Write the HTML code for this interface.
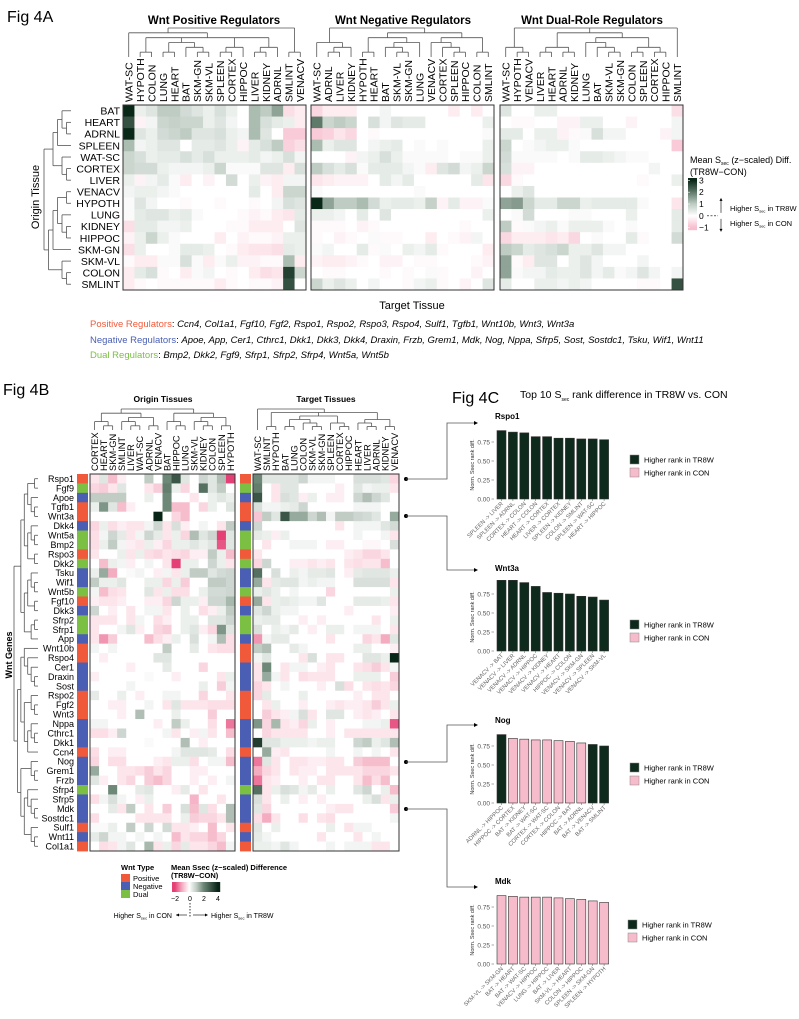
<!DOCTYPE html>
<html><head><meta charset="utf-8"><style>
html,body{margin:0;padding:0;background:#fff}
svg{display:block;font-family:"Liberation Sans",Arial,sans-serif}
</style></head><body>
<svg id="fig" width="799" height="1019" viewBox="0 0 799 1019" xmlns="http://www.w3.org/2000/svg">
<text x="7" y="22" font-size="16">Fig 4A</text>
<text x="214" y="24" font-size="11.5" font-weight="bold" text-anchor="middle">Wnt Positive Regulators</text>
<text x="403" y="24" font-size="11.5" font-weight="bold" text-anchor="middle">Wnt Negative Regulators</text>
<text x="592" y="24" font-size="11.5" font-weight="bold" text-anchor="middle">Wnt Dual-Role Regulators</text>
<text x="412" y="309" font-size="11" text-anchor="middle">Target Tissue</text>
<text transform="translate(39,197) rotate(-90)" font-size="11" text-anchor="middle">Origin Tissue</text>
<text x="690" y="163" font-size="9">Mean S<tspan font-size="5" dy="2">sec</tspan><tspan dy="-2"> (z−scaled) Diff.</tspan></text>
<text x="690" y="175" font-size="9">(TR8W−CON)</text>
<g font-size="9.5">
<text x="90" y="327"><tspan fill="#f05a3a">Positive Regulators</tspan>: <tspan font-style="italic">Ccn4, Col1a1, Fgf10, Fgf2, Rspo1, Rspo2, Rspo3, Rspo4, Sulf1, Tgfb1, Wnt10b, Wnt3, Wnt3a</tspan></text>
<text x="90" y="343"><tspan fill="#4a5fb4">Negative Regulators</tspan>: <tspan font-style="italic">Apoe, App, Cer1, Cthrc1, Dkk1, Dkk3, Dkk4, Draxin, Frzb, Grem1, Mdk, Nog, Nppa, Sfrp5, Sost, Sostdc1, Tsku, Wif1, Wnt11</tspan></text>
<text x="90" y="358"><tspan fill="#7bc043">Dual Regulators</tspan>: <tspan font-style="italic">Bmp2, Dkk2, Fgf9, Sfrp1, Sfrp2, Sfrp4, Wnt5a, Wnt5b</tspan></text>
</g>
<text x="3" y="395" font-size="16">Fig 4B</text>
<text x="163" y="402" font-size="8.5" font-weight="bold" text-anchor="middle">Origin Tissues</text>
<text x="326" y="402" font-size="8.5" font-weight="bold" text-anchor="middle">Target Tissues</text>
<text transform="translate(12,655) rotate(-90)" font-size="9" font-weight="bold" text-anchor="middle">Wnt Genes</text>
<text x="452" y="403" font-size="16">Fig 4C</text>
<text x="520" y="398" font-size="10.5">Top 10 S<tspan font-size="5" dy="3">sec</tspan><tspan dy="-3"> rank difference in TR8W vs. CON</tspan></text>
<g id="g4b-legend">
<text x="121" y="870" font-size="7.5" font-weight="bold">Wnt Type</text>
<rect x="121" y="874" width="9" height="8" fill="#f05a3a"/><text x="133" y="881" font-size="7.5">Positive</text>
<rect x="121" y="882" width="9" height="8" fill="#4a5fb4"/><text x="133" y="889" font-size="7.5">Negative</text>
<rect x="121" y="890" width="9" height="8" fill="#7bc043"/><text x="133" y="897" font-size="7.5">Dual</text>
<text x="171" y="870" font-size="7.5" font-weight="bold">Mean Ssec (z−scaled) Difference</text>
<text x="171" y="878" font-size="7.5" font-weight="bold">(TR8W−CON)</text>
<text x="175" y="901" font-size="7" text-anchor="middle">−2</text>
<text x="190" y="901" font-size="7" text-anchor="middle">0</text>
<text x="204" y="901" font-size="7" text-anchor="middle">2</text>
<text x="218" y="901" font-size="7" text-anchor="middle">4</text>
<line x1="190" y1="903" x2="190" y2="918" stroke="#000" stroke-width="0.8" stroke-dasharray="1.5,1.5"/>
<text x="172" y="918" font-size="7" text-anchor="end">Higher S<tspan font-size="4" dy="1.5">sec</tspan><tspan dy="-1.5"> in CON</tspan></text>
<line x1="176" y1="915" x2="187" y2="915" stroke="#000" stroke-width="0.6"/><path d="M176,915 l3,-1.5 v3z"/>
<line x1="193" y1="915" x2="205" y2="915" stroke="#000" stroke-width="0.6"/><path d="M208,915 l-3,-1.5 v3z"/>
<text x="211" y="918" font-size="7">Higher S<tspan font-size="4" dy="1.5">sec</tspan><tspan dy="-1.5"> in TR8W</tspan></text>
</g>
</svg>
<script>
// ===== DATA =====
const tissuesA1 = ["WAT-SC","HYPOTH","COLON","LUNG","HEART","BAT","SKM-GN","SKM-VL","SPLEEN","CORTEX","HIPPOC","LIVER","KIDNEY","ADRNL","SMLINT","VENACV"];
const tissuesA2 = ["WAT-SC","ADRNL","LIVER","KIDNEY","HYPOTH","HEART","BAT","SKM-VL","SKM-GN","LUNG","VENACV","CORTEX","SPLEEN","HIPPOC","COLON","SMLINT"];
const tissuesA3 = ["WAT-SC","HYPOTH","VENACV","LIVER","HEART","ADRNL","KIDNEY","LUNG","BAT","SKM-VL","SKM-GN","COLON","SPLEEN","CORTEX","HIPPOC","SMLINT"];
const originRowsA = ["BAT","HEART","ADRNL","SPLEEN","WAT-SC","CORTEX","LIVER","VENACV","HYPOTH","LUNG","KIDNEY","HIPPOC","SKM-GN","SKM-VL","COLON","SMLINT"];
const valuesA1 = [
[3,.3,.5,1,1,.7,.5,.3,.6,.3,0,1.2,1,1.5,-.5,-.3],
[2.5,-.2,.2,.8,.9,.8,.8,.3,.5,.2,0,1.2,.6,.4,.3,-.3],
[3,.5,.3,.7,.8,1,.5,.5,.6,.3,.2,1.2,.5,0,-.8,-.8],
[1.2,.2,.3,.5,.5,0,.4,.4,.5,.3,-.2,.4,.6,1,-.7,-.5],
[.8,.6,.3,.4,.4,.6,.4,.6,.3,.3,.3,.4,.2,.3,.6,.2],
[.8,.7,.7,.3,.2,.2,.2,.3,.8,.1,.1,.1,.5,.5,-.3,.6],
[.3,-.2,.2,.4,.1,-.3,0,-.2,0,.7,0,.3,-.2,-.3,.2,.2],
[.2,.3,.3,.2,.1,0,0,0,0,0,0,.4,0,-.3,.8,.8],
[.1,.5,.2,0,0,-.1,0,0,-.1,0,0,-.1,0,.2,.6,.5],
[.1,.4,.5,.5,.3,.4,.1,0,0,0,-.1,-.2,-.1,-.3,-.4,.4],
[-.5,.4,.4,.2,.2,.3,0,0,0,-.1,-.1,-.3,-.3,-.3,0,.5],
[-.2,.3,.8,.3,.1,0,0,0,-.3,0,-.2,-.1,-.1,-.2,.3,.3],
[-.5,.3,0,0,.1,.4,.4,.3,0,-.1,-.3,-.4,-.4,-.5,.4,.3],
[-.1,-.3,-.3,.1,.1,.6,.1,-.3,.1,.3,-.2,-.2,-.1,-.1,1.2,-.3],
[-.3,.4,.6,-.1,0,-.3,.1,.2,0,-.1,0,-.3,-.5,-.4,2.7,.8],
[-.3,-.1,0,-.1,-.1,-.1,-.1,-.1,-.3,-.1,0,-.1,-.1,-.2,2.5,0]];
const valuesA2 = [
[-.6,-.3,-.3,-.3,0,0,.2,0,0,0,0,0,-.3,0,-.3,0],
[2,.8,1,.8,0,.6,.2,.5,.4,.4,0,0,0,0,0,.3],
[-.8,-.7,-.4,-.6,0,-.1,0,0,0,0,0,0,0,0,0,.1],
[1.2,.3,.5,.5,0,.2,.3,.4,0,.1,0,.1,0,0,0,.3],
[0,0,0,-.2,.2,.3,.6,.3,.1,.1,.1,.1,0,.1,.1,.3],
[1,.6,.4,.6,.1,.4,.4,.4,.2,.1,-.3,.5,.7,.2,.3,.8],
[-.4,-.3,-.2,-.2,-.2,0,.4,.2,.4,0,0,0,0,0,.4,-.4],
[.1,0,0,0,0,0,0,0,0,.1,0,0,0,0,0,0],
[3,1.5,1,1,1.2,.7,.3,.4,.4,.3,.9,-.2,.4,-.2,-.2,.1],
[.3,.3,.2,0,.4,0,.5,0,0,0,0,0,0,0,0,.3],
[-.1,-.1,-.1,0,-.2,-.1,0,0,0,0,0,0,0,-.1,0,0],
[-.1,0,-.2,-.1,0,.1,-.1,-.1,0,0,-.3,0,-.1,-.2,.2,0],
[.1,.2,0,0,.4,-.1,.1,0,.3,.2,.4,-.1,0,0,0,-.3],
[-.2,-.3,-.3,-.2,-.1,0,-.2,-.2,0,-.1,-.1,0,0,0,-.1,-.2],
[0,-.1,-.1,0,0,0,-.1,0,-.1,0,.1,-.1,0,0,-.2,0],
[.8,.3,.5,.3,0,.2,0,0,-.1,.2,.3,-.1,0,-.2,0,.5]];
const valuesA3 = [
[.5,0,0,.3,.3,0,0,0,0,0,0,0,0,0,0,-.5],
[0,-.1,-.1,0,0,-.2,-.2,.3,.3,0,0,-.2,0,0,0,.2],
[.4,.4,0,.3,.3,-.2,-.1,.1,.6,.2,.2,0,0,0,-.2,.2],
[.8,0,.1,.2,.3,.3,.1,0,0,0,0,0,0,0,0,-.8],
[.7,.1,.1,.1,.1,0,.1,.4,.4,.3,.2,.1,.1,0,0,0],
[.6,-.2,-.2,0,0,0,0,0,0,0,0,0,0,.2,0,0],
[-.6,-.1,0,0,0,0,0,0,0,0,0,0,-.1,0,0,.3],
[0,.3,.5,0,0,0,0,0,0,0,0,0,0,0,0,0],
[1.5,1.6,.8,.4,.4,.8,.8,.3,.4,.4,.4,.4,.1,0,0,-.4],
[0,.1,.7,0,0,0,.1,.1,0,0,0,.3,0,0,0,.4],
[1,-.1,.1,.2,.3,.1,.3,.3,.3,.1,0,.1,0,0,0,.4],
[-.6,-.3,-.3,-.3,-.4,-.3,-.6,0,.1,0,0,.4,-.1,0,0,.7],
[1,.8,.4,.5,.6,.8,.3,.3,.5,.2,.2,0,0,0,0,0],
[1.5,-.1,-.3,.5,.5,0,.3,.5,.2,0,0,0,.2,0,0,0],
[1.5,.1,.2,.2,.4,.3,.3,.5,.2,.4,.1,.2,.5,.2,0,.2],
[.4,0,0,.3,.3,.2,.3,.2,0,0,0,0,-.1,-.1,0,2.5]];
const colorbarTicksA = [3,2,1,0,-1];

const genesB = ["Rspo1","Fgf9","Apoe","Tgfb1","Wnt3a","Dkk4","Wnt5a","Bmp2","Rspo3","Dkk2","Tsku","Wif1","Wnt5b","Fgf10","Dkk3","Sfrp2","Sfrp1","App","Wnt10b","Rspo4","Cer1","Draxin","Sost","Rspo2","Fgf2","Wnt3","Nppa","Cthrc1","Dkk1","Ccn4","Nog","Grem1","Frzb","Sfrp4","Sfrp5","Mdk","Sostdc1","Sulf1","Wnt11","Col1a1"];
const typesB = ["P","D","N","P","P","N","D","D","P","D","N","N","D","P","N","D","D","N","P","P","N","N","N","P","P","P","N","N","N","P","N","N","N","D","N","N","N","P","N","P"];
const originColsB = ["CORTEX","HEART","SKM-GN","SMLINT","LIVER","WAT-SC","ADRNL","VENACV","BAT","HIPPOC","LUNG","SKM-VL","KIDNEY","COLON","SPLEEN","HYPOTH"];
const targetColsB = ["WAT-SC","SMLINT","HYPOTH","BAT","LUNG","COLON","SKM-VL","SKM-GN","SPLEEN","CORTEX","HIPPOC","HEART","LIVER","ADRNL","KIDNEY","VENACV"];
const originValsB = [
[-.3,.5,-.8,-.2,0,0,1,0,2,3,.5,0,.8,.5,1.2,-2],
[-.5,-.6,-.3,.5,0,0,-.3,-.6,2.2,.3,-.5,0,2.5,.5,1,0],
[1,1,1,1,0,0,.3,0,2,0,0,-.3,0,.3,.5,.3],
[.3,1.8,.5,-.8,-.2,0,0,0,2,-.8,-.8,0,-.5,.3,0,.5],
[0,0,0,0,0,0,0,4,0,-.5,-.8,0,0,0,0,0],
[-.5,.3,-.4,-.2,-.3,-.3,.2,.8,-.3,.6,-.2,0,.2,0,-.3,1],
[-.4,.2,.8,.4,-.3,.2,.8,.4,-.3,.3,-.5,1.2,.5,.8,-2,.5],
[-.4,.3,1,.2,-.2,-.3,.3,-.2,-.5,.3,.3,.5,.3,.5,-1.8,.5],
[-.3,0,0,.3,-.3,.3,-.4,-.5,-.3,-.4,-.5,-.2,-.2,1,.3,-.8],
[0,-.8,.3,.2,-.2,0,.2,0,-.3,-2,.3,.3,0,.8,.3,-.3],
[.3,1.5,-1,0,.1,.2,0,-.2,.2,-.3,.3,1,1,.5,.7,.8],
[1,.3,.3,.5,0,0,.3,.3,-.5,.3,-.6,0,0,1,1,.8],
[.2,-.8,-.4,-.3,0,0,.5,-.3,.3,-.4,-.4,0,.3,.7,.7,.8],
[-.2,-.3,-.3,-.2,0,0,-.2,-.2,-.5,.8,.3,.3,-.2,.8,.8,1.3],
[.8,0,-.2,0,-.3,0,.2,.2,-.3,0,.3,0,-.4,-.2,.3,1],
[-.3,-.3,-.3,0,-.3,.2,0,-.4,-.2,0,.3,.3,0,.5,.5,.8],
[-.3,0,0,.2,.5,-.2,0,-.5,-.6,0,.3,.5,-.2,-.5,1.8,.5],
[-.3,-1.2,-.6,0,0,0,-.8,-.4,-.2,.3,0,.6,0,.2,1.2,-.4],
[.2,0,.2,0,0,0,0,0,1,0,0,.4,0,-.3,-.4,-.4],
[0,-.2,0,0,0,0,0,.5,.5,0,0,0,0,0,0,0],
[0,0,0,0,-.2,0,0,0,.4,0,0,0,-.5,0,0,0],
[-.2,0,0,0,0,0,.1,0,0,-.2,0,0,0,0,-.3,.3],
[0,0,0,0,.2,0,0,0,0,0,0,0,.3,0,-.6,.2],
[.4,0,0,.3,0,-.2,0,0,.2,.2,0,0,-.5,0,0,-.3],
[0,0,-.2,-.2,0,0,.2,0,-.3,.5,-.3,-.3,-.3,-.4,-.4,-.4],
[0,0,0,-.2,0,1.2,0,0,0,.3,0,0,0,-.6,0,0],
[.2,.2,0,0,0,0,0,-.2,0,1,.3,0,0,-.4,0,-1.5],
[-.4,-.4,-.2,.8,0,0,0,0,.2,-.3,0,-.2,.2,-.3,0,-.8],
[0,0,0,0,0,0,.1,0,0,0,1.2,0,-.2,0,0,0],
[-.4,0,-.2,-.2,0,0,0,0,0,.2,.5,.5,.5,.4,0,-.4],
[-.5,0,-.4,-.4,0,0,0,-.2,-.3,.3,.3,-.4,0,.2,.2,-.8],
[1.5,0,0,-.3,-.3,-.4,-.6,-.3,-.5,0,0,-.2,-.2,0,0,0],
[.5,-.2,0,-.3,-.5,0,-.6,-.8,-.5,0,0,-.2,0,-.2,0,.2],
[0,0,2,0,0,.4,.5,0,0,-.2,.4,0,-.3,0,0,0],
[-.4,.2,.6,.2,0,-.2,.3,0,0,0,0,-.9,0,0,-.3,0],
[0,0,.4,-.3,1,0,-.3,0,-.6,0,.6,-.8,.5,-.4,0,1.2],
[-.4,0,0,0,0,-.3,-.3,-.3,-.3,0,.3,-.6,-.5,-.5,-.3,1.2],
[.1,.1,.3,0,1,0,.8,0,.7,-.3,-.3,-.2,0,-.8,0,-.3],
[.4,.8,.2,.2,0,.2,0,.2,0,-.8,-.3,-.5,-.5,-.8,-.5,0],
[0,-.4,-.3,.2,.5,0,1.3,-.3,.3,-.5,.4,-.3,-.3,-.5,-.8,.2]];
const targetValsB = [
[2,.5,.5,.5,.5,.8,.2,.2,.2,0,0,.6,.6,.6,.5,-.5],
[2.2,0,-.3,.5,.5,0,0,0,0,-.2,0,.5,.2,.3,.3,-.3],
[3,0,-.3,.6,.5,-.2,.3,0,-.2,-.2,0,.8,1.2,.8,.5,0],
[.6,.2,.2,.3,.4,.8,0,0,0,0,0,.2,.2,.2,0,0],
[-.7,1,.5,3,1.5,1.5,.8,1.2,.2,1,1,.8,.7,.5,0,1.5],
[.8,0,0,0,0,0,0,0,0,-.3,0,.2,.2,.2,.5,.7],
[.4,.3,-.2,.3,0,0,0,0,0,0,0,.2,0,0,.2,-.3],
[0,-.3,0,0,.2,.2,.2,0,-.2,-.2,0,0,-.1,-.1,0,.6],
[-.3,0,0,0,0,0,0,0,0,0,-.2,-.3,-.5,-.5,-.3,0],
[-.5,.8,0,0,-.2,-.2,-.3,-.2,-.3,0,-.3,-.4,-.3,-.3,-.8,0],
[2.5,0,.6,0,.3,.2,.4,.4,.5,0,-.2,.4,.5,.5,.5,.3],
[1.5,-.3,.4,.5,.5,.2,.3,.2,.2,0,0,.6,.6,.6,.6,-.3],
[.3,.5,.3,0,.2,0,0,0,-.5,0,0,0,0,0,0,.3],
[1.5,-.3,.3,.4,.3,.2,.2,.5,0,0,0,.4,.4,.4,.3,-.3],
[.5,.8,.3,.2,.2,0,0,0,0,0,-.2,0,0,0,0,-.2],
[.3,.4,.4,0,0,-.2,0,-.2,0,0,0,0,0,-.3,0,.3],
[.6,0,.3,.2,.4,0,-.2,0,.3,.3,0,.2,.2,.2,0,-.3],
[-1.2,.2,.4,.4,0,0,0,0,-.3,0,0,0,-.5,-.3,-1,.5],
[1,1.2,0,0,.4,.2,0,0,0,0,0,.3,.3,0,0,-.2],
[.2,.5,0,0,0,-.3,.6,0,-.3,-.3,0,0,.5,.5,.3,4],
[-.3,2,0,-.3,.2,.2,0,-.2,-.3,0,0,-.3,-.4,-.6,-.3,.2],
[-.3,1.5,.2,-.3,0,-.4,-.3,-.3,-.3,0,0,.3,.3,.3,0,-.6],
[-.5,-.3,0,.2,0,0,0,-.2,0,.6,-.4,0,-.3,-.4,-.3,-.5],
[-.5,.4,0,0,0,.3,0,0,0,0,0,-.2,0,-.3,-.3,0],
[0,-.3,.3,0,0,-.2,0,0,-.2,-.3,-.2,-.2,-.3,-.6,-.3,.3],
[0,-.6,-.3,-.2,.2,.6,-.3,0,.5,.5,0,-.2,-.3,-.2,0,-.3],
[1.8,-.5,1.3,-.3,-.2,-.5,.3,0,-.2,0,0,0,.2,.2,.3,-1.8],
[0,-.5,-.3,-.3,-.3,-.3,0,0,-.2,0,-.3,-.3,-.3,-.3,-.3,-.3],
[3.5,.5,.5,.3,.3,.3,.2,.3,.3,0,0,.8,1,.3,.5,1.2],
[0,1.5,-.2,-.3,0,0,0,0,.2,0,0,.2,0,.2,0,-.3],
[-1.5,.5,-.3,0,-.3,-.3,-.2,-.2,-.3,-.3,0,-.6,-.8,-.8,-.8,0],
[-1,-.5,-.3,0,-.3,-.2,-.2,0,-.3,-.3,-.3,-.3,-.5,-.5,-.5,-.3],
[-1.5,-.3,-.2,0,0,-.2,0,-.3,-.3,0,0,-.3,-.8,-.4,-.8,0],
[2.5,-.3,.3,.6,.5,.2,.4,0,.3,0,0,.5,.8,0,.3,-.8],
[.6,-.3,0,.3,0,-.2,0,-.2,0,0,0,0,.3,.6,-.3,.3],
[.5,-.5,0,0,0,0,0,0,-.2,-.3,-.3,0,0,0,0,-.6],
[-.4,-1,-.3,0,0,-.4,0,-.3,-.4,0,0,0,0,0,0,.2],
[.5,0,.3,0,0,0,0,0,.3,0,-.3,.2,.2,0,0,0],
[.4,.2,0,0,0,0,0,-.3,0,0,0,-.3,0,.2,0,0],
[.3,.3,.2,.5,.2,0,0,0,.2,0,.2,.2,.2,-.3,-.3,0]];

const barGenes = ["Rspo1","Wnt3a","Nog","Mdk"];
const barLabels = [
["SPLEEN -> LIVER","SPLEEN -> ADRNL","CORTEX -> COLON","HEART -> COLON","HEART -> CORTEX","LIVER -> CORTEX","SPLEEN -> KIDNEY","COLON -> SMLINT","SPLEEN -> WAT-SC","HEART -> HIPPOC"],
["VENACV -> BAT","VENACV -> LIVER","VENACV -> ADRNL","VENACV -> HIPPOC","VENACV -> KIDNEY","VENACV -> HEART","HIPPOC -> COLON","VENACV -> SKM-GN","VENACV -> SPLEEN","VENACV -> SKM-VL"],
["ADRNL -> HIPPOC","HIPPOC -> CORTEX","BAT -> KIDNEY","BAT -> WAT-SC","CORTEX -> WAT-SC","CORTEX -> COLON","HIPPOC -> BAT","BAT -> ADRNL","BAT -> VENACV","BAT -> SMLINT"],
["SKM-VL -> SKM-GN","BAT -> HEART","BAT -> WAT-SC","VENACV -> HIPPOC","LUNG -> HIPPOC","BAT -> LIVER","SKM-VL -> HEART","COLON -> HIPPOC","SPLEEN -> SKM-GN","SPLEEN -> HYPOTH"]];
const barValues = [
[.90,.88,.87,.82,.82,.80,.80,.79,.79,.78],
[.93,.93,.90,.85,.77,.76,.75,.72,.71,.67],
[.90,.85,.84,.83,.83,.82,.81,.79,.77,.75],
[.90,.89,.88,.88,.88,.87,.86,.85,.83,.81]];
const barDirections = [
["T","T","T","T","T","T","T","T","T","T"],
["T","T","T","T","T","T","T","T","T","T"],
["T","C","C","C","C","C","C","C","T","T"],
["C","C","C","C","C","C","C","C","C","C"]];
const barTicks = [0,0.25,0.5,0.75];

// ===== HELPERS =====
const svg = document.getElementById('fig');
const NS = 'http://www.w3.org/2000/svg';
function mk(tag, attrs, parent){const e=document.createElementNS(NS,tag);for(const k in attrs)e.setAttribute(k,attrs[k]);(parent||svg).appendChild(e);return e;}
function lerp(a,b,t){return a.map((v,i)=>Math.round(v+(b[i]-v)*t));}
function rampColor(v, stops){
  if(v<=stops[0][0]) return 'rgb('+stops[0][1].join(',')+')';
  for(let i=1;i<stops.length;i++){ if(v<=stops[i][0]){const t=(v-stops[i-1][0])/(stops[i][0]-stops[i-1][0]);return 'rgb('+lerp(stops[i-1][1],stops[i][1],t).join(',')+')';}}
  return 'rgb('+stops[stops.length-1][1].join(',')+')';
}
const stopsA=[[-1,[247,190,206]],[0,[255,255,255]],[1,[190,204,195]],[2,[96,122,106]],[3,[10,40,24]]];
const stopsB=[[-2,[228,64,118]],[-1,[244,172,193]],[0,[255,255,255]],[1,[192,204,196]],[2,[110,136,120]],[4,[8,36,22]]];
const typeColor={P:'#f05a3a',N:'#4a5fb4',D:'#7bc043'};

// dendrogram (nested arrays of leaf indices)
function dendro(tree, leafPos, orient, base, len, g){
  function depth(t){return Array.isArray(t)?1+Math.max(...t.map(depth)):0;}
  const H=depth(tree);
  function coord(h){return base - h/H*len;}
  function walk(t){
    if(!Array.isArray(t)) return {p:leafPos(t),h:0};
    const ch=t.map(walk); const h=1+Math.max(...ch.map(c=>c.h));
    const ps=ch.map(c=>c.p); const c0=coord(h);
    ch.forEach(c=>{ if(orient==='top') mk('line',{x1:c.p,y1:coord(c.h),x2:c.p,y2:c0},g); else mk('line',{x1:coord(c.h),y1:c.p,x2:c0,y2:c.p},g);});
    const a=Math.min(...ps), b=Math.max(...ps);
    if(orient==='top') mk('line',{x1:a,y1:c0,x2:b,y2:c0},g); else mk('line',{x1:c0,y1:a,x2:c0,y2:b},g);
    return {p:(a+b)/2,h:h};
  }
  walk(tree);
}

// heatmap
function heatmap(name, vals, x0, y0, cw, rh, stops){
  const g=mk('g',{});
  
  
  vals.forEach((row,r)=>row.forEach((v,c)=>{
    const rc=mk('rect',{x:(x0+c*cw).toFixed(2),y:(y0+r*rh).toFixed(2),width:(cw+0.4).toFixed(2),height:(rh+0.4).toFixed(2),fill:rampColor(v,stops)},g);
    
    
  }));
  mk('rect',{x:x0,y:y0,width:cw*vals[0].length,height:rh*vals.length,fill:'none',stroke:'#333','stroke-width':1},g);
  return g;
}
function colLabels(name, labels, x0, cw, yBottom, fs){
  const g=mk('g',{'font-size':fs});
  
  
  labels.forEach((l,i)=>{const x=x0+(i+0.5)*cw+fs*0.36;const t=mk('text',{transform:'translate('+x.toFixed(2)+','+yBottom+') rotate(-90)'},g);t.textContent=l;});
}
function rowLabels(name, labels, xRight, y0, rh, fs){
  const g=mk('g',{'font-size':fs,'text-anchor':'end'});
  
  
  labels.forEach((l,i)=>{const t=mk('text',{x:xRight,y:(y0+(i+0.5)*rh+fs*0.36).toFixed(2)},g);t.textContent=l;});
}
function dgroup(name){const g=mk('g',{stroke:'#555','stroke-width':0.8,fill:'none'});return g;}

// ===== FIG 4A =====
const A_top=105, A_bot=290, A_rh=(A_bot-A_top)/16;
const panelsA=[[123,306,tissuesA1,valuesA1,'positive'],[311,494,tissuesA2,valuesA2,'negative'],[500,683,tissuesA3,valuesA3,'dual']];
const colTreesA=[
 [[0,[[1,2],[[3,4],[5,[6,7]]],[[8,9],10],[[11,12],13]]],[14,15]],
 [[0,[[1,2],3]],[[[4,5],[[6,[7,8]],9]],[[10,[11,[12,13]]],[14,15]]]],
 [[0,[1,2]],[[[3,4],[5,6]],[[7,[8,[9,10]]],[[11,12],[13,14]]]],15]];
panelsA.forEach((p,k)=>{
  const cw=(p[1]-p[0])/16;
  heatmap('heatmap-4a-'+p[4], p[3], p[0], A_top, cw, A_rh, stopsA);
  colLabels('col-labels-4a-'+p[4], p[2], p[0], cw, 102, 10.5);
  dendro(colTreesA[k], i=>p[0]+(i+0.5)*cw, 'top', 57, 29, dgroup('col-dendrogram-4a-'+p[4]));
});
rowLabels('row-labels-4a', originRowsA, 120, A_top, A_rh, 10.5);
dendro([[[[0,[1,2]],3],[[4,[5,6]]]],[[[[7,8],[9,[10,11]]],12],[13,[14,15]]]], i=>A_top+(i+0.5)*A_rh, 'left', 71, 27, dgroup('row-dendrogram-4a'));

// colorbar 4A
(function(){
  const g=mk('g',{});  
  const x=688,y0=178,y1=230,vmin=-1.2,vmax=3.2;
  for(let i=0;i<52;i++){const v=vmax-(i+0.5)/52*(vmax-vmin);mk('rect',{x:x,y:y0+i,width:9,height:1.2,fill:rampColor(v,stopsA)},g);}
  colorbarTicksA.forEach(t=>{const y=y0+(vmax-t)/(vmax-vmin)*(y1-y0);
    mk('line',{x1:x,x2:x+2,y1:y,y2:y,stroke:'#fff','stroke-width':0.6},g);
    const tx=mk('text',{x:x+11,y:y+3,'font-size':8.5},g);tx.textContent=(t<0?'−':'')+Math.abs(t);});
  const y0v=y0+(vmax-0)/(vmax-vmin)*(y1-y0);
  mk('line',{x1:707,x2:718,y1:y0v,y2:y0v,stroke:'#000','stroke-width':0.7,'stroke-dasharray':'2,1.5'},g);
  mk('line',{x1:721,x2:721,y1:y0v-3,y2:y0v-16,stroke:'#000','stroke-width':0.6},g); mk('path',{d:'M721,'+(y0v-18)+' l-1.5,3 h3z'},g);
  mk('line',{x1:721,x2:721,y1:y0v+3,y2:y0v+14,stroke:'#000','stroke-width':0.6},g); mk('path',{d:'M721,'+(y0v+16)+' l-1.5,-3 h3z'},g);
  const a=mk('text',{x:730,y:y0v-5,'font-size':7.5},g); a.innerHTML='Higher S<tspan font-size="4" dy="1.5">sec</tspan><tspan dy="-1.5"> in TR8W</tspan>';
  const b=mk('text',{x:730,y:y0v+10,'font-size':7.5},g); b.innerHTML='Higher S<tspan font-size="4" dy="1.5">sec</tspan><tspan dy="-1.5"> in CON</tspan>';
})();

// ===== FIG 4B =====
const B_top=474, B_bot=851, B_rh=(B_bot-B_top)/genesB.length;
const oX0=90,oX1=235,tX0=253,tX1=399;
heatmap('heatmap-4b-origin', originValsB, oX0, B_top, (oX1-oX0)/16, B_rh, stopsB);
heatmap('heatmap-4b-target', targetValsB, tX0, B_top, (tX1-tX0)/16, B_rh, stopsB);
[[77,'type-bar-origin'],[240,'type-bar-target']].forEach(tb=>{
  const g=mk('g',{});  
  typesB.forEach((t,i)=>mk('rect',{x:tb[0],y:(B_top+i*B_rh).toFixed(2),width:11,height:(B_rh+0.4).toFixed(2),fill:typeColor[t]},g));
});
colLabels('col-labels-4b-origin', originColsB, oX0, (oX1-oX0)/16, 471, 9.3);
colLabels('col-labels-4b-target', targetColsB, tX0, (tX1-tX0)/16, 471, 9.3);
rowLabels('row-labels-4b', genesB, 74, B_top, B_rh, 9);
dendro([[[0,[1,2]],[[3,[4,5]],[6,7]]],[[8,[9,10]],[[11,[12,13]],[14,15]]]], i=>oX0+(i+0.5)*(oX1-oX0)/16, 'top', 430, 21, dgroup('col-dendrogram-4b-origin'));
dendro([0,[[1,2],[[[3,4],[5,[6,7]]],[8,[9,10]]],[[11,[12,13]],[14,15]]]], i=>tX0+(i+0.5)*(tX1-tX0)/16, 'top', 430, 21, dgroup('col-dendrogram-4b-target'));
dendro([[[[[0,1],[2,[3,4]]],[[5,[6,7]],[8,9]]],[[[10,[11,12]],[13,14]],[[15,16],17]]],[[[18,[19,[20,[21,22]]]],[[23,[24,25]],[[26,[27,28]],29]]],[[30,[31,32]],[[33,[34,[35,36]]],[37,[38,39]]]]]],
  i=>B_top+(i+0.5)*B_rh, 'left', 38, 24, dgroup('row-dendrogram-4b'));
// colorbar 4B
(function(){
  const g=mk('g',{});  
  const x0=172,x1=220,vmin=-2.4,vmax=4.3;
  for(let i=0;i<48;i++){const v=vmin+(i+0.5)/48*(vmax-vmin);mk('rect',{x:x0+i,y:882,width:1.2,height:10,fill:rampColor(v,stopsB)},g);}
})();

// ===== FIG 4C =====
const chartTop=[419,571,723,884], chartZero=[499,651,803,964], legendY=[455,620,763,920];
const pxPerUnit=76, barX0=497, barPitch=11.4, barW=9;
barGenes.forEach((gname,k)=>{
  const g=mk('g',{});  
  const y=v=>chartZero[k]-v*pxPerUnit;
  const tt=mk('text',{x:495,y:chartTop[k],'font-size':8,'font-weight':'bold'},g); tt.textContent=gname;
  barTicks.forEach(t=>{const tx=mk('text',{x:490,y:y(t)+2.5,'font-size':6.5,'text-anchor':'end',fill:'#555'},g);tx.textContent=t.toFixed(2);
    mk('line',{x1:491.5,x2:494,y1:y(t),y2:y(t),stroke:'#555','stroke-width':0.5},g);});
  const yt=mk('text',{transform:'translate(474,'+(chartZero[k]-34)+') rotate(-90)','font-size':5.5,'text-anchor':'middle',fill:'#333'},g); yt.textContent='Norm. Ssec rank diff.';
  barValues[k].forEach((v,i)=>{
    const cx=barX0+i*barPitch+barW/2;
    const r=mk('rect',{x:cx-barW/2,y:y(v),width:barW,height:v*pxPerUnit,fill:barDirections[k][i]==='T'?'#0d2a1c':'#f7bccb',stroke:'#333','stroke-width':0.6},g);
    
    
    mk('line',{x1:cx,x2:cx,y1:chartZero[k],y2:chartZero[k]+2,stroke:'#555','stroke-width':0.5},g);
    const lb=mk('text',{transform:'translate('+(cx+2)+','+(chartZero[k]+5)+') rotate(-45)','font-size':5.8,'text-anchor':'end',fill:'#666'},g);
    lb.textContent=barLabels[k][i];
  });
  const lx=k===3?628:630;
  const lg=mk('g',{},g);  
  mk('rect',{x:lx,y:legendY[k],width:9,height:9,fill:'#0d2a1c',stroke:'#888','stroke-width':0.5},lg);
  mk('rect',{x:lx,y:legendY[k]+13,width:9,height:9,fill:'#f7bccb',stroke:'#888','stroke-width':0.5},lg);
  const l1=mk('text',{x:lx+14,y:legendY[k]+7.5,'font-size':7.5},lg); l1.textContent='Higher rank in TR8W';
  const l2=mk('text',{x:lx+14,y:legendY[k]+20.5,'font-size':7.5},lg); l2.textContent='Higher rank in CON';
});
// connectors
const connDot=[479,516,762,809], connArrow=[423,570,725,887];
connDot.forEach((d,k)=>{
  const g=mk('g',{});  
  mk('circle',{cx:406,cy:d,r:2},g);
  mk('path',{d:'M406,'+d+' H447 V'+connArrow[k]+' H474',fill:'none',stroke:'#555','stroke-width':0.8},g);
  mk('path',{d:'M478,'+connArrow[k]+' l-4,-2 v4z',fill:'#000'},g);
});
</script>
</body></html>
